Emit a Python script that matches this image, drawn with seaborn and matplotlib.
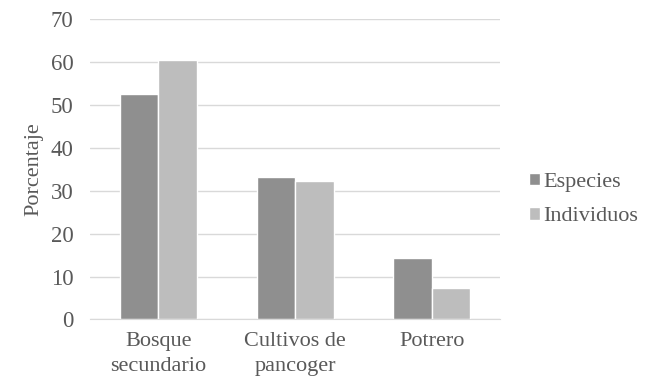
import seaborn as sns
import matplotlib.pyplot as plt
import pandas as pd

categorias = ["Bosque\nsecundario", "Cultivos de\npancoger", "Potrero"]
especies = [52.6, 33.2, 14.4]
individuos = [60.5, 32.3, 7.4]

df = pd.DataFrame({
    "categoria": categorias * 2,
    "serie": ["Especies"] * 3 + ["Individuos"] * 3,
    "valor": especies + individuos,
})

sns.set_style("white")
plt.rcParams["font.family"] = "serif"
plt.rcParams["font.serif"] = ["Liberation Serif", "DejaVu Serif"]
plt.rcParams["font.size"] = 16
txt = "#595959"

fig = plt.figure(figsize=(6.53, 3.9), dpi=100)
ax = fig.add_axes([0.138, 0.181, 0.628, 0.7695])
sns.barplot(data=df, x="categoria", y="valor", hue="serie",
            palette=["#8f8f8f", "#bdbdbd"], width=0.565, gap=0,
            saturation=1, ax=ax)

ax.set_ylim(0, 70)
ax.set_yticks(range(0, 71, 10))
ax.set_yticklabels([str(v) for v in range(0, 71, 10)], fontsize=16.5)
ax.set_xticks(range(len(categorias)))
ax.set_xticklabels(categorias, fontsize=16, linespacing=1.42)
ax.yaxis.grid(True, color="#d9d9d9", linewidth=1)
ax.set_axisbelow(True)
for s in ["top", "right", "left"]:
    ax.spines[s].set_visible(False)
ax.spines["bottom"].set_color("#d9d9d9")
ax.tick_params(axis="y", length=0, colors=txt, pad=12)
ax.tick_params(axis="x", length=0, colors=txt, pad=9)
ax.set_xlabel("")
ax.set_ylabel("Porcentaje", fontsize=16, color=txt, labelpad=5)

leg = ax.legend(loc="center left", bbox_to_anchor=(1.022, 0.40), frameon=False,
                prop={"size": 16}, labelcolor=txt,
                handlelength=0.5, handleheight=0.5,
                handletextpad=0.15, labelspacing=0.68)

fig.savefig("out.png", dpi=100)
